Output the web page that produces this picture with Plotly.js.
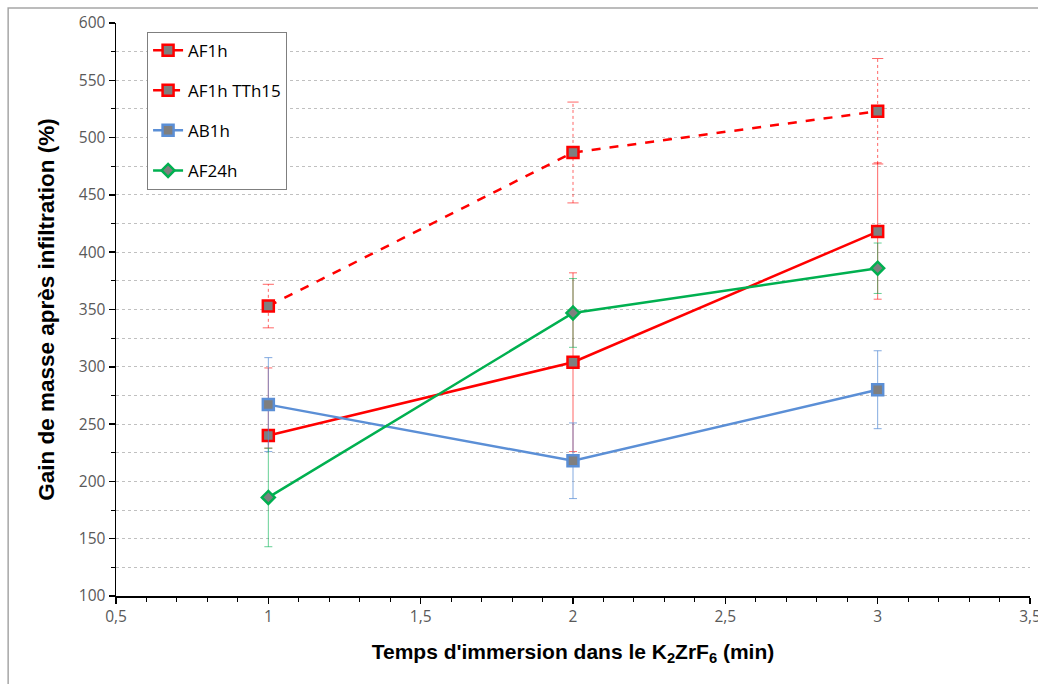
<!DOCTYPE html>
<html>
<head>
<meta charset="utf-8">
<script src="https://cdn.plot.ly/plotly-3.0.1.min.js"></script>
<style>html,body{margin:0;padding:0;background:#fff;}#chart{width:1038px;height:684px;}</style>
</head>
<body>
<div id="chart"></div>
<script>
// Data
const immersionTime = [1, 2, 3];
const seriesNames = ["AF1h", "AF1h TTh15", "AB1h", "AF24h"];
const af1h = [240, 304, 418];
const af1hErrPlus = [59, 78, 60];
const af1hErrMinus = [11, 78, 59];
const af1hTTh15 = [353, 487, 523];
const af1hTTh15Err = [19, 44, 46];
const ab1h = [267, 218, 280];
const ab1hErr = [41, 33, 34];
const af24h = [186, 347, 386];
const af24hErr = [43, 30, 22];
const xTickVals = [0.5, 1, 1.5, 2, 2.5, 3, 3.5];
const xTickText = ["0,5", "1", "1,5", "2", "2,5", "3", "3,5"];

const RED = "#ff0000", BLUE = "#5b8fd6", GREEN = "#00b050", GREY = "#7f7f7f";

function errBar(arrPlus, arrMinus, color) {
  return {type: "data", symmetric: false, array: arrPlus, arrayminus: arrMinus,
          color: color, thickness: 1, width: 4};
}

// Dotted error bars for the TTh15 series (vertical part + caps)
const tthErrX = [], tthErrY = [], capX = [], capY = [];
immersionTime.forEach((x, i) => {
  const lo = af1hTTh15[i] - af1hTTh15Err[i], hi = af1hTTh15[i] + af1hTTh15Err[i];
  tthErrX.push(x, x, null); tthErrY.push(lo, hi, null);
  capX.push(x, x); capY.push(lo, hi);
});

const traces = [
  {x: tthErrX, y: tthErrY, mode: "lines", showlegend: false, hoverinfo: "skip",
   line: {color: "rgba(255,0,0,0.6)", width: 1, dash: "dot"}},
  {x: capX, y: capY, mode: "markers", showlegend: false, hoverinfo: "skip",
   marker: {symbol: "line-ew", size: 8, line: {color: "rgba(255,0,0,0.6)", width: 1}}},
  {x: immersionTime, y: af1h, name: seriesNames[0], legendgroup: "g1", mode: "lines+markers",
   line: {color: RED, width: 2.5},
   marker: {symbol: "square", size: 11, color: GREY, line: {color: RED, width: 2.5}},
   error_y: errBar(af1hErrPlus, af1hErrMinus, "rgba(255,0,0,0.6)")},
  {x: immersionTime, y: af1hTTh15, name: seriesNames[1], legendgroup: "g2", mode: "lines+markers",
   line: {color: RED, width: 2.5, dash: "dash"},
   marker: {symbol: "square", size: 11, color: GREY, line: {color: RED, width: 2.5}}},
  {x: immersionTime, y: ab1h, name: seriesNames[2], legendgroup: "g3", mode: "lines+markers",
   line: {color: BLUE, width: 2.5},
   marker: {symbol: "square", size: 11, color: GREY, line: {color: BLUE, width: 2.5}},
   error_y: errBar(ab1hErr, ab1hErr, "rgba(91,143,214,0.75)")},
  {x: immersionTime, y: af24h, name: seriesNames[3], legendgroup: "g4", mode: "lines+markers",
   line: {color: GREEN, width: 2.5},
   marker: {symbol: "diamond", size: 10, color: GREY, line: {color: GREEN, width: 2.5}},
   error_y: errBar(af24hErr, af24hErr, "rgba(0,176,80,0.6)")}
];

const tickFont = {family: "Open Sans, Noto Sans, sans-serif", size: 15.5, color: "#595959"};
const xTitleFont = {family: "Liberation Sans, Arial, sans-serif", size: 21, color: "#000", weight: "bold"};
const yTitleFont = {family: "Liberation Sans, Arial, sans-serif", size: 22.5, color: "#000", weight: "bold"};

const layout = {
  width: 1038, height: 684,
  margin: {l: 116, r: 8, t: 23, b: 88},
  paper_bgcolor: "#fff", plot_bgcolor: "#fff",
  showlegend: true,
  legend: {x: 0.034, y: 0.985, xanchor: "left", yanchor: "top",
           bgcolor: "#fff", bordercolor: "#7f7f7f", borderwidth: 1,
           font: {family: "Open Sans, Noto Sans, sans-serif", size: 17, color: "#000"},
           traceorder: "grouped", tracegroupgap: 15},
  xaxis: {range: [0.5, 3.5], tickvals: xTickVals, ticktext: xTickText,
          ticklabeloverflow: "allow",
          showgrid: false, zeroline: false, showline: true, linecolor: "#000", linewidth: 1.5,
          ticks: "outside", ticklen: 6, tickcolor: "#000", tickwidth: 1.5,
          minor: {dtick: 0.1, ticks: "outside", ticklen: 4, tickcolor: "#000", tickwidth: 1, showgrid: false},
          tickfont: tickFont,
          title: {text: "Temps d'immersion dans le K<sub>2</sub>ZrF<sub>6</sub> (min)", font: xTitleFont, standoff: 18}},
  yaxis: {range: [100, 600], dtick: 50, tick0: 100,
          showgrid: true, gridcolor: "#c0c0c0", griddash: "dot", gridwidth: 1,
          zeroline: false, showline: true, linecolor: "#000", linewidth: 1.5,
          ticks: "outside", ticklen: 6, tickcolor: "#000", tickwidth: 1.5,
          minor: {dtick: 25, ticks: "outside", ticklen: 4, tickcolor: "#000", tickwidth: 1,
                  showgrid: true, gridcolor: "#c0c0c0", griddash: "dot", gridwidth: 1},
          tickfont: tickFont,
          title: {text: "Gain de masse après infiltration (%)", font: yTitleFont, standoff: 18}},
  shapes: [{type: "rect", xref: "paper", yref: "paper", x0: -0.118, x1: 1.2, y0: -0.3, y1: 1.026,
            line: {color: "#a6a6a6", width: 1.5}, fillcolor: "rgba(0,0,0,0)", layer: "below"}]
};

Plotly.newPlot("chart", traces, layout, {displayModeBar: false, staticPlot: true});
</script>
</body>
</html>
